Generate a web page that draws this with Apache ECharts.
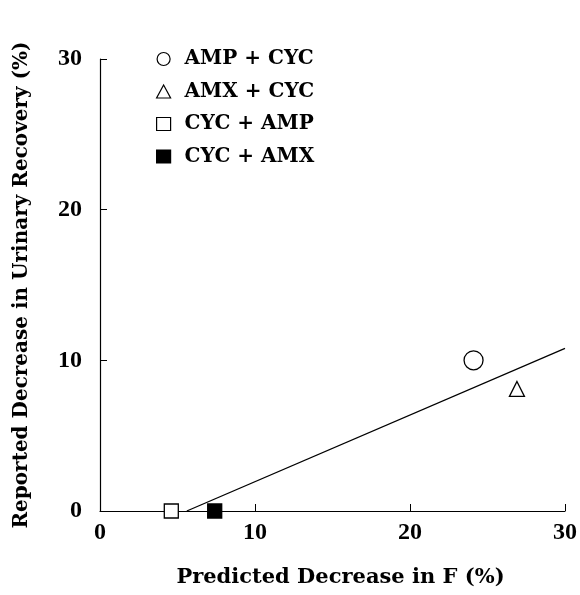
<!DOCTYPE html>
<html><head><meta charset="utf-8">
<script src="https://cdn.jsdelivr.net/npm/echarts@6/dist/echarts.min.js"></script>
<style>html,body{margin:0;padding:0;background:#fff}#c{width:580px;height:595px}</style>
</head><body><div id="c"></div>
<script>
const seriesNames = ['AMP + CYC', 'AMX + CYC', 'CYC + AMP', 'CYC + AMX'];
const xValues = [24.1, 26.9, 4.6, 7.4];
const yValues = [10.0, 8.1, 0.0, 0.0];
const regressionX = [5.6, 30];
const regressionY = [0, 10.8];
const xTicks = [0, 10, 20, 30];
const yTicks = [0, 10, 20, 30];

const symbols = ['circle', 'triangle', 'rect', 'rect'];
const sizes = [19, 15, 14, 14];
const fills = ['#fff', '#fff', '#fff', '#000'];
const tickFont = '"Liberation Serif", "DejaVu Serif", serif';
const nameFont = '"DejaVu Serif", "Liberation Serif", serif';

const chart = echarts.init(document.getElementById('c'));
const series = seriesNames.map((n, i) => ({
  name: n, type: 'scatter', symbol: symbols[i], symbolSize: sizes[i], z: 5,
  itemStyle: { color: fills[i], borderColor: '#000', borderWidth: 1.3, opacity: 1 },
  data: [[xValues[i], yValues[i]]]
}));
series.push({
  type: 'line', symbol: 'none', z: 3, silent: true,
  lineStyle: { color: '#000', width: 1.3 },
  data: regressionX.map((x, i) => [x, regressionY[i]])
});
chart.setOption({
  animation: false,
  grid: { left: 100, right: 13, top: 59, bottom: 84 },
  legend: {
    orient: 'vertical', left: 151, top: 43, itemGap: 10.5,
    itemWidth: 14, itemHeight: 13,
    textStyle: { fontFamily: nameFont, fontWeight: 'bold', fontSize: 20, lineHeight: 22, color: '#000', padding: [0, 0, 0, 9] },
    data: seriesNames.map((n, i) => ({ name: n, icon: symbols[i],
      itemStyle: { color: fills[i], borderColor: '#000', borderWidth: 1.2 } }))
  },
  xAxis: {
    type: 'value', min: xTicks[0], max: xTicks[xTicks.length - 1], interval: 10,
    name: 'Predicted Decrease in F (%)', nameLocation: 'middle', nameGap: 56,
    nameTextStyle: { fontFamily: nameFont, fontWeight: 'bold', fontSize: 21, color: '#000', padding: [0, 0, 0, 16] },
    axisLine: { lineStyle: { color: '#000', width: 1.2 } },
    axisTick: { inside: true, length: 7, lineStyle: { color: '#000' } },
    axisLabel: { fontFamily: tickFont, fontWeight: 'bold', fontSize: 24, color: '#000', margin: 10 },
    splitLine: { show: false }
  },
  yAxis: {
    type: 'value', min: yTicks[0], max: yTicks[yTicks.length - 1], interval: 10,
    name: 'Reported Decrease in Urinary Recovery (%)', nameLocation: 'middle', nameGap: 68,
    nameTextStyle: { fontFamily: nameFont, fontWeight: 'bold', fontSize: 20, color: '#000' },
    axisLine: { show: true, lineStyle: { color: '#000', width: 1.2 } },
    axisTick: { show: true, inside: true, length: 7, lineStyle: { color: '#000' } },
    axisLabel: { fontFamily: tickFont, fontWeight: 'bold', fontSize: 24, color: '#000', margin: 18 },
    splitLine: { show: false }
  },
  series: series
});
</script></body></html>
